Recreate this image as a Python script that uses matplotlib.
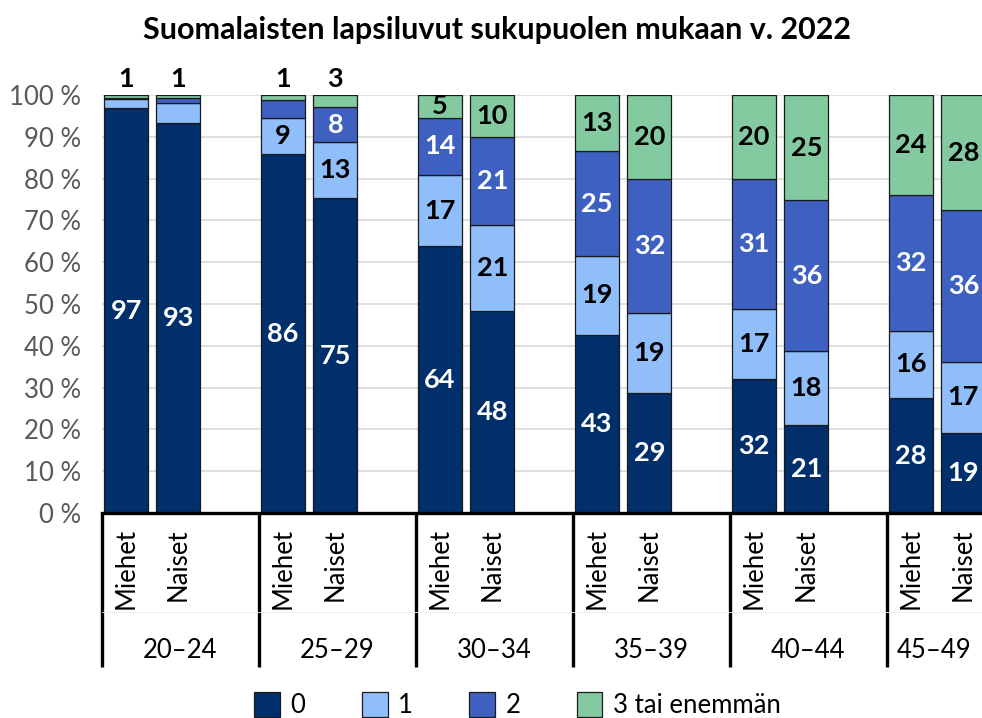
import matplotlib
matplotlib.use('Agg')
import matplotlib.pyplot as plt
from matplotlib.patches import Patch
import numpy as np

plt.rcParams['font.family'] = ['Lato', 'DejaVu Sans']

# ikäryhmät ja sukupuolet
groups = ['20–24', '25–29', '30–34', '35–39', '40–44', '45–49']
sexes = ['Miehet', 'Naiset']
series = ['0', '1', '2', '3 tai enemmän']

# osuudet (%) järjestyksessä Miehet, Naiset jokaisesta ryhmästä
zero = [96.8, 93.4, 85.8, 75.3, 63.8, 48.3, 42.7, 28.6, 32.1, 21.1, 27.5, 19.2]
one = [2.3, 4.7, 8.6, 13.4, 17.0, 20.6, 18.7, 19.2, 16.8, 17.7, 16.1, 17.0]
two = [0.3, 1.3, 4.4, 8.4, 13.8, 21.0, 25.2, 32.2, 30.9, 36.0, 32.4, 36.2]
three = [0.6, 0.6, 1.2, 2.9, 5.4, 10.1, 13.4, 20.0, 20.1, 25.2, 24.0, 27.6]

colors = ['#002F6C', '#8FBEFA', '#3E60C0', '#84CAA0']
text_colors = ['white', 'black', 'white', 'black']

W, H = 982, 718
fig = plt.figure(figsize=(W / 100, H / 100), dpi=100)
ax = fig.add_axes([102 / W, (H - 513) / H, (W - 102) / W, 418 / H])

group_w = 3
offsets = [0.46, 1.46]
xs = []
for g in range(len(groups)):
    for o in offsets:
        xs.append(g * group_w + o)
xs = np.array(xs)

data = [np.array(zero), np.array(one), np.array(two), np.array(three)]
bottom = np.zeros(len(xs))
for k, vals in enumerate(data):
    ax.bar(xs, vals, bottom=bottom, width=0.84, color=colors[k],
           edgecolor='#1a1a1a', linewidth=0.9, zorder=3, label=series[k])
    for x, b, v in zip(xs, bottom, vals):
        n = int(round(v))
        if v >= 5:
            ax.text(x, b + v / 2, str(n), ha='center', va='center',
                    color=text_colors[k], fontsize=19.5, fontweight='bold', zorder=4)
        elif k == 3:
            ax.annotate(str(n), (x, b + v), xytext=(0, 3), textcoords='offset points',
                        ha='center', va='bottom', fontsize=19.5, fontweight='bold',
                        annotation_clip=False)
    bottom += vals

xmax = (W - 102) / 52.33
ax.set_xlim(0, xmax)
ax.set_ylim(0, 100)
ax.set_yticks(np.arange(0, 101, 10))
ax.set_yticklabels([f'{v} %' for v in range(0, 101, 10)])
ax.tick_params(axis='y', length=0, labelsize=18.5, labelcolor='#595959', pad=15)
ax.tick_params(axis='x', length=0, labelbottom=False)
ax.grid(axis='y', color='#d9d9d9', linewidth=1.2, zorder=0)
for s in ['top', 'right', 'left']:
    ax.spines[s].set_visible(False)
ax.spines['bottom'].set_linewidth(2.4)
ax.spines['bottom'].set_zorder(5)

# kategoriatekstit x-akselin alla
tr = ax.get_xaxis_transform()
for i, x in enumerate(xs):
    if x < xmax:
        ax.text(x, -0.036, sexes[i % 2], transform=tr, rotation=90, ha='center',
                va='top', fontsize=18.5, clip_on=False)
for g, name in enumerate(groups):
    x0 = g * group_w
    x1 = min(x0 + group_w, xmax)
    ax.text((x0 + x1) / 2, -0.328, name, transform=tr, ha='center', va='center',
            fontsize=18.5, clip_on=False)
    ax.plot([x0, x0], [0, -0.368], transform=tr, color='black', lw=2.4,
            clip_on=False, solid_capstyle='butt')
ax.plot([0, xmax], [-0.237, -0.237], transform=tr, color='#ececec', lw=0.6, clip_on=False)

fig.text(0.506, 0.958, 'Suomalaisten lapsiluvut sukupuolen mukaan v. 2022',
         ha='center', va='center', fontsize=22, fontweight='bold')

handles = [Patch(facecolor=c, edgecolor='#1a1a1a', linewidth=0.9) for c in colors]
fig.legend(handles, series, loc='center', bbox_to_anchor=(0.527, 0.018), ncol=4,
           frameon=False, fontsize=18.5, handlelength=1.0, handleheight=1.1,
           handletextpad=0.4, columnspacing=2.2)

fig.savefig('out.png', dpi=100)
